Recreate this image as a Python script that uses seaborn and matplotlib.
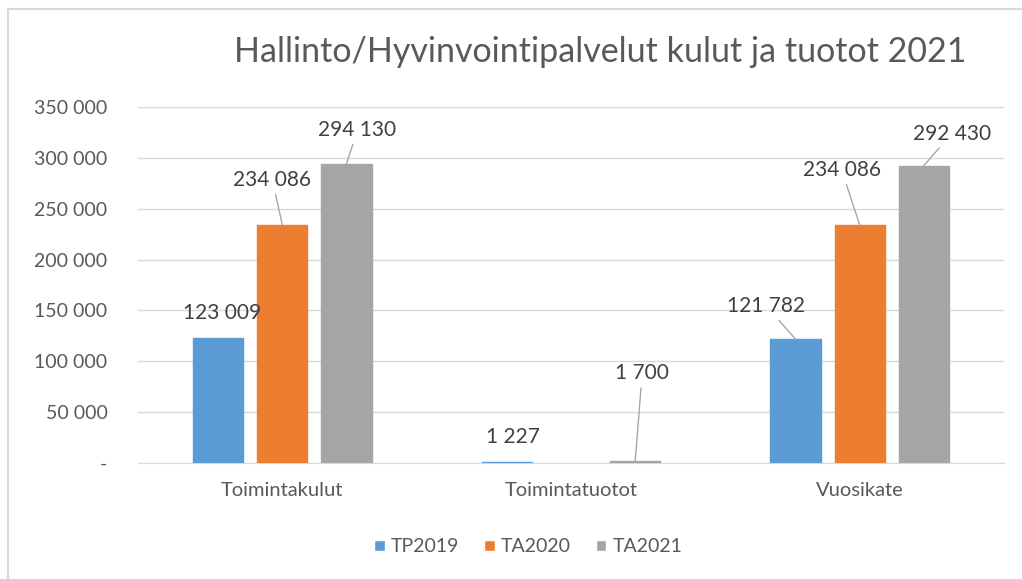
import numpy as np
import pandas as pd
import matplotlib
matplotlib.use('Agg')
import matplotlib.pyplot as plt
import seaborn as sns
from matplotlib.lines import Line2D

# data
categories = ['Toimintakulut', 'Toimintatuotot', 'Vuosikate']
series = ['TP2019', 'TA2020', 'TA2021']
tp2019 = [123009, 1227, 121782]
ta2020 = [234086, 0, 234086]
ta2021 = [294130, 1700, 292430]
yticks = [0, 50000, 100000, 150000, 200000, 250000, 300000, 350000]

colors = ['#5B9BD5', '#ED7D31', '#A5A5A5']
text_col = '#595959'

df = pd.DataFrame({
    'kategoria': categories * 3,
    'sarja': [s for s in series for _ in categories],
    'arvo': tp2019 + ta2020 + ta2021,
})

sns.set_style('white')
plt.rcParams['font.family'] = ['Lato', 'DejaVu Sans']

fig = plt.figure(figsize=(10.22, 5.79), dpi=100)
ax = fig.add_axes([138 / 1022, 1 - 463 / 579, 866 / 1022, 356 / 579])

sns.barplot(data=df, x='kategoria', y='arvo', hue='sarja', palette=colors,
            width=0.667, gap=0.22, ax=ax, legend=True, saturation=1)

# thin edge in the bar colour so tiny values still show as a line
for cont, c in zip(ax.containers, colors):
    for bar in cont:
        bar.set_edgecolor(c)
        bar.set_linewidth(1.0 if bar.get_height() > 0 else 0)
        bar.set_zorder(3)

ax.set_xlim(-0.5, 2.5)
ax.set_ylim(0, 350000)
ax.set_yticks(yticks)
ax.set_yticklabels(['-' if v == 0 else f'{v:,}'.replace(',', ' ') for v in yticks])
ax.yaxis.grid(True, color='#D9D9D9', linewidth=1)
ax.set_axisbelow(True)
for s in ['left', 'right', 'top']:
    ax.spines[s].set_visible(False)
ax.spines['bottom'].set_color('#D9D9D9')
ax.set_xlabel('')
ax.set_ylabel('')
ax.tick_params(axis='y', length=0, pad=22, labelsize=14, labelcolor=text_col)
ax.tick_params(axis='x', length=0, pad=14, labelsize=14.5, labelcolor=text_col)

# label offsets in pixels (text centre relative to bar top), whether to draw a leader line
offsets = {
    ('TP2019', 0): ((4, 25), False),
    ('TA2020', 0): ((-10, 45), True),
    ('TA2021', 0): ((11, 34), True),
    ('TP2019', 1): ((6, 25), False),
    ('TA2021', 1): ((7, 88), True),
    ('TP2019', 2): ((-29, 33), True),
    ('TA2020', 2): ((-18, 55), True),
    ('TA2021', 2): ((28, 32), True),
}

for name, cont in zip(series, ax.containers):
    for i, bar in enumerate(cont):
        key = (name, i)
        if key not in offsets:
            continue
        (dx, dy), line = offsets[key]
        h = bar.get_height()
        xc = bar.get_x() + bar.get_width() / 2
        label = f'{int(h):,}'.replace(',', ' ')
        arrow = dict(arrowstyle='-', color='#A6A6A6', lw=1, shrinkA=1, shrinkB=0) if line else None
        ax.annotate(label, xy=(xc, h), xytext=(dx, dy), textcoords='offset pixels',
                    ha='center', va='center', fontsize=15, color='#404040',
                    arrowprops=arrow, annotation_clip=False, zorder=4)

# legend
handles, labels = ax.get_legend_handles_labels()
ax.legend_.remove()
fig.legend(handles, labels, loc='center', bbox_to_anchor=(528 / 1022, 1 - 547 / 579),
           ncol=3, frameon=False, fontsize=14, labelcolor=text_col,
           handlelength=0.55, handleheight=0.55, handletextpad=0.3, columnspacing=1.3)

fig.text(600 / 1022, 1 - 52 / 579, 'Hallinto/Hyvinvointipalvelut kulut ja tuotot 2021',
         ha='center', va='center', fontsize=24.5, color=text_col)

# chart border (left and top edges visible)
fig.add_artist(Line2D([7.5 / 1022, 7.5 / 1022], [0, 1 - 9 / 579], color='#D9D9D9', lw=1.5,
                      transform=fig.transFigure))
fig.add_artist(Line2D([7.5 / 1022, 1], [1 - 9 / 579, 1 - 9 / 579], color='#D9D9D9', lw=1.5,
                      transform=fig.transFigure))

fig.savefig('out.png', dpi=100)
